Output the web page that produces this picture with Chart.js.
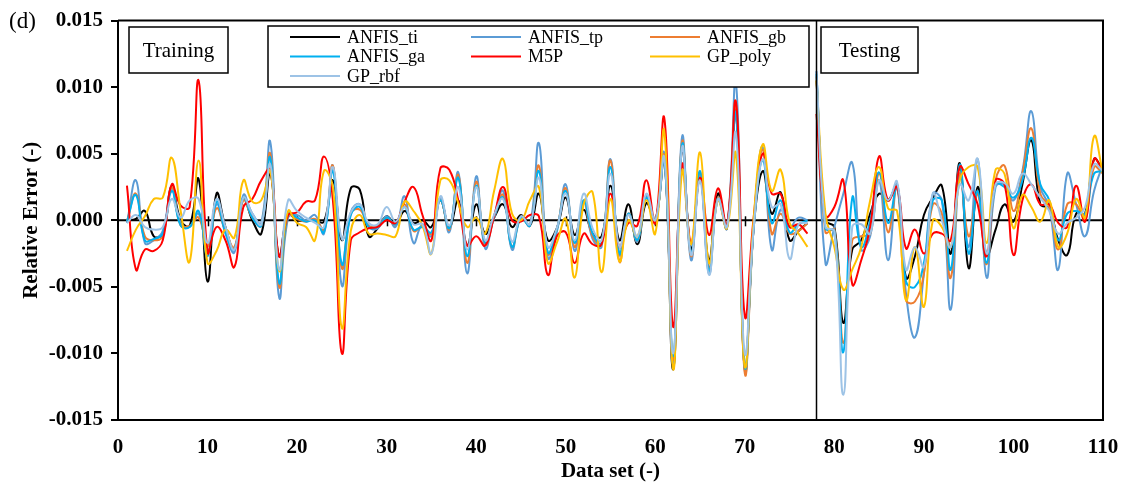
<!DOCTYPE html>
<html>
<head>
<meta charset="utf-8">
<script src="https://cdn.jsdelivr.net/npm/chart.js@4.4.1/dist/chart.umd.min.js"></script>
<style>
html, body { margin: 0; padding: 0; background: #fff; }
#wrap { width: 1123px; height: 490px; }
</style>
</head>
<body>
<div id="wrap"><canvas id="chart" width="1123" height="490"></canvas></div>
<script>
// data set index runs 1..110; the first 77 samples are training, the rest testing
var trainCount = 77;
var splitAt = 78;
var xTickValues = [0, 10, 20, 30, 40, 50, 60, 70, 80, 90, 100, 110];
var zeroAxisTicks = [10, 20, 30, 40, 50, 60, 70];

var seriesNames = ['ANFIS_ti', 'ANFIS_tp', 'ANFIS_gb', 'ANFIS_ga', 'M5P', 'GP_poly', 'GP_rbf'];
var seriesColors = ['#000000', '#5B9BD5', '#ED7D31', '#00B0F0', '#FF0000', '#FFC000', '#9DC3E6'];

var anfisTi = [
  0, 0.0001, 0.0007, -0.0012, -0.001, 0.0026, 0, -0.0004, 0.0031, -0.0046,
  0.002, -0.0005, -0.0022, 0.0017, 0, -0.001, 0.0035, -0.0027, 0.0005, 0,
  0, 0, -0.0001, 0.003, -0.0015, 0.0024, 0.0023, -0.0012, -0.0006, 0.0003,
  -0.0003, 0.0007, -0.0002, 0, -0.0005, 0.0015, -0.0005, 0.0015, -0.0019, 0.0012,
  -0.001, 0.0002, 0.0012, -0.0005, 0.0004, -0.0004, 0.002, -0.0015, -0.0006, 0.0017,
  -0.0011, 0.0008, -0.001, -0.0012, 0.0026, -0.0015, 0.0012, -0.0018, 0.0013, 0,
  0.0046, -0.0112, 0.0055, -0.0022, 0.0032, -0.003, 0.002, -0.0006, 0.0082, -0.0112,
  -0.0005, 0.0037, 0.0005, 0.0021, -0.0015, -0.0008, -0.0002,
  0.0105, 0, -0.0005, -0.0077, -0.0022, -0.0015, 0.0005, 0.002, 0.0015, 0.0027,
  -0.0043, -0.0027, 0.0004, 0.0017, 0.0026, -0.0025, 0.0043, -0.0036, 0.0025, -0.0026,
  -0.0007, 0.0012, -0.0001, 0.0027, 0.006, 0.0012, 0.0009, -0.0015, -0.0026, 0.0005,
  0.0005, 0.0046, 0.0038
];
var anfisTp = [
  -0.0002, 0.003, -0.0017, -0.0015, -0.0008, 0.0024, -0.0002, -0.0005, 0.0005, -0.0024,
  0.0012, -0.001, -0.0024, 0.0019, 0.0005, -0.0002, 0.0059, -0.0058, 0.0002, 0.0004,
  0, 0.0004, -0.001, 0.0041, -0.0049, 0.0006, 0.0012, -0.0005, -0.0006, 0.0003,
  -0.0005, 0.0018, -0.0017, -0.0003, -0.0012, 0.0017, -0.0009, 0.0036, -0.004, 0.0033,
  -0.0021, 0.0003, 0.0022, -0.0022, 0.0002, -0.0004, 0.0058, -0.0028, -0.0009, 0.0027,
  -0.0023, 0.0015, -0.0014, -0.002, 0.0046, -0.0026, 0.0005, -0.0016, 0.0018, -0.0001,
  0.005, -0.0108, 0.0063, -0.003, 0.0036, -0.004, 0.0017, -0.0006, 0.0104, -0.0113,
  -0.0003, 0.0055, -0.0022, 0.0008, -0.0005, 0.0002, 0,
  0.0112, -0.0032, -0.0005, 0.002, 0.0043, -0.0022, -0.0012, 0.003, -0.003, 0.0027,
  -0.0055, -0.0088, -0.004, 0.002, 0.0015, -0.0067, 0.0035, -0.002, 0.0046, -0.0043,
  0.0025, 0.0027, 0.0015, 0.0037, 0.0082, 0.0025, 0.001, -0.0037, 0.0035, 0.0012,
  -0.0012, 0.0022, 0.0042
];
var anfisGb = [
  -0.0001, 0.002, -0.0012, -0.0015, -0.0012, 0.0025, -0.0004, -0.0004, 0.0002, -0.002,
  0.0009, -0.0008, -0.002, 0.0015, 0.0002, -0.0004, 0.005, -0.005, 0.0004, 0.0001,
  -0.0001, 0.0001, -0.0007, 0.0041, -0.0036, 0.0005, 0.0008, -0.0004, -0.0004, 0.0002,
  -0.0003, 0.0012, -0.0008, -0.0005, -0.001, 0.0015, -0.0007, 0.0034, -0.0032, 0.0029,
  -0.0018, 0.0002, 0.0019, -0.002, 0.0002, -0.0004, 0.0041, -0.0025, -0.0007, 0.0024,
  -0.002, 0.0014, -0.0012, -0.0018, 0.0045, -0.0031, 0.0005, -0.0015, 0.0017, 0,
  0.0048, -0.0105, 0.0059, -0.0027, 0.0036, -0.0036, 0.0017, -0.0005, 0.0088, -0.0115,
  -0.0004, 0.0053, -0.001, 0.0005, -0.001, -0.0008, -0.0002,
  0.0108, -0.0009, -0.0007, -0.0092, -0.0015, -0.0012, -0.001, 0.0035, -0.0009, 0.0025,
  -0.006, -0.0061, -0.004, 0.0012, 0.0005, -0.0043, 0.0035, -0.0012, 0.002, -0.0033,
  0.003, 0.0041, 0.0007, 0.0035, 0.0069, 0.002, 0.001, -0.0022, 0.0012, 0.0012,
  0, 0.004, 0.0035
];
var anfisGa = [
  -0.0001, 0.0019, -0.0015, -0.0014, -0.001, 0.0022, -0.0004, -0.0005, 0.0007, -0.0027,
  0.0014, -0.0009, -0.0022, 0.0017, 0.0002, -0.0004, 0.0047, -0.0047, 0.0005, 0.0002,
  -0.0001, 0, -0.0009, 0.0037, -0.0033, 0.0004, 0.001, -0.0005, -0.0005, 0.0002,
  -0.0003, 0.001, -0.0007, -0.0005, -0.0009, 0.0015, -0.0006, 0.0032, -0.0027, 0.0026,
  -0.0017, 0.0002, 0.0017, -0.002, 0.0002, -0.0004, 0.0037, -0.0024, -0.0007, 0.0022,
  -0.0017, 0.0015, -0.001, -0.0017, 0.004, -0.0025, 0.0005, -0.0015, 0.0017, 0,
  0.0046, -0.0102, 0.0057, -0.0025, 0.0037, -0.0038, 0.0016, -0.0005, 0.008, -0.011,
  -0.0005, 0.0045, -0.0002, 0.0015, -0.0009, -0.0003, 0,
  0.011, -0.0006, -0.0008, -0.0099, 0.0017, -0.002, 0, 0.0036, -0.0002, 0.0025,
  -0.0046, -0.005, -0.0032, 0.0015, 0.0015, -0.0037, 0.0042, -0.0025, 0.0022, -0.0032,
  0.0027, 0.0025, 0.0017, 0.003, 0.0062, 0.0027, 0.0015, -0.0015, 0.0005, 0.0007,
  0.0005, 0.0035, 0.0037
];
var m5p = [
  0.0026, -0.0037, -0.0022, -0.0023, -0.0015, 0.0027, 0.0011, 0.001, 0.0105, -0.0024,
  -0.0005, -0.0015, -0.0035, 0.001, 0.0016, 0.003, 0.0038, -0.0027, 0.0004, 0.0006,
  0.0014, 0.0015, 0.0048, 0.0015, -0.01, -0.0015, -0.0009, -0.0006, -0.0005, 0,
  -0.0002, 0.0014, 0.0025, 0.0004, -0.0015, 0.0039, 0.0038, 0.0015, -0.0019, -0.0012,
  -0.0019, 0.0003, 0.0025, 0, -0.0001, 0.0004, 0.0003, -0.0041, -0.0012, -0.0009,
  -0.0032, -0.001, -0.0018, -0.0018, 0.002, -0.002, -0.0002, -0.0004, 0.003, -0.0002,
  0.0077, -0.008, 0.0042, -0.0017, 0.0032, -0.0011, 0.0024, -0.0004, 0.0089, -0.0072,
  0.0003, 0.005, 0.002, 0.002, -0.0005, -0.0003, -0.001,
  0.008, 0.0003, 0.001, 0.003, -0.0048, -0.003, -0.0005, 0.0048, 0.0015, 0.0025,
  -0.0021, -0.0007, -0.0025, -0.001, -0.001, -0.0015, 0.004, 0.0027, 0.0012, -0.0027,
  0.003, 0.0027, -0.0026, 0.0015, 0.0027, 0.0012, 0.0012, -0.0002, -0.0005, 0.0026,
  -0.0001, 0.0046, 0.0037
];
var gpPoly = [
  -0.0023, -0.0007, 0.0003, 0.0016, 0.0017, 0.0047, 0.0007, -0.0031, 0.0045, -0.0032,
  -0.0023, -0.0007, -0.0013, 0.003, 0.0014, 0.0015, 0.0037, -0.0038, 0.0007, -0.0002,
  -0.0005, -0.0015, 0.0037, 0.0025, -0.0081, -0.0008, 0.0004, -0.001, -0.001, -0.0011,
  -0.0012, 0.0014, 0.0007, -0.0004, -0.0025, 0.003, 0.003, 0.0013, -0.0005, 0.0002,
  -0.001, 0.0022, 0.0046, 0.0005, 0, 0.0015, 0.0025, -0.0032, -0.0017, 0.0001,
  -0.0043, 0.0012, 0.0021, -0.0039, 0.0016, -0.0031, 0, -0.0012, 0.0015, -0.001,
  0.0067, -0.0112, 0.0037, -0.0018, 0.0051, -0.0032, 0.0015, -0.0006, 0.005, -0.011,
  0.0002, 0.0057, 0.0022, 0.0038, -0.0002, -0.001, -0.002,
  0.0105, 0.0005, -0.002, -0.0052, -0.0037, -0.002, 0.0015, 0.004, 0.0009, 0.0007,
  -0.006, -0.002, -0.0065, 0, -0.0005, -0.002, 0.003, 0.004, 0.004, -0.0017,
  0.0038, 0.0035, -0.0006, 0.0019, 0.001, -0.0001, 0.0015, -0.002, -0.001, 0.0016,
  0.0002, 0.0063, 0.0035
];
var gpRbf = [
  -0.0002, 0.0004, -0.0005, -0.0007, -0.0005, 0.0016, 0.0002, 0.0015, 0.0016, -0.0017,
  0.0016, -0.0005, -0.0022, 0.0017, 0.0005, -0.0003, 0.0042, -0.0037, 0.0015, 0.0007,
  0.0002, -0.0002, -0.0005, 0.004, -0.0014, 0.0006, 0.0012, -0.0002, -0.0003, 0.001,
  -0.0001, 0.001, -0.0003, -0.0003, -0.0025, 0.0018, -0.0004, 0.0025, -0.0022, 0.0025,
  -0.0015, 0.0004, 0.0016, -0.0016, 0.0003, -0.0003, 0.0032, -0.002, -0.0006, 0.002,
  -0.0015, 0.002, -0.0006, -0.0015, 0.0035, -0.002, 0.0004, -0.0012, 0.002, 0,
  0.0047, -0.01, 0.0055, -0.0026, 0.003, -0.0041, 0.0016, -0.0005, 0.0065, -0.01,
  -0.0005, 0.0046, 0.001, 0.0012, -0.0029, -0.0003, -0.0002,
  0.0112, -0.0005, -0.0008, -0.0131, -0.0005, -0.0003, -0.001, 0.003, 0.0015, 0.0029,
  -0.0037, -0.002, -0.0035, 0.002, 0, -0.002, 0.0027, 0.0015, 0.0046, -0.0025,
  0.0027, 0.0028, 0.002, 0.0035, 0.0027, 0.0017, 0.0007, -0.001, -0.0002, 0.0002,
  0.001, 0.0042, 0.0037
];

var seriesValues = [anfisTi, anfisTp, anfisGb, anfisGa, m5p, gpPoly, gpRbf];

var serif = '"Liberation Serif", "Times New Roman", serif';

// gap between training and testing so the curves don't join
function toPoints(values) {
  var pts = [];
  for (var i = 0; i < values.length; i++) {
    if (i === trainCount) pts.push({ x: trainCount + 0.5, y: null });
    pts.push({ x: i + 1, y: values[i] });
  }
  return pts;
}

var datasets = seriesNames.map(function (name, i) {
  return {
    label: name,
    data: toPoints(seriesValues[i]),
    borderColor: seriesColors[i],
    backgroundColor: seriesColors[i],
    borderWidth: 2,
    pointRadius: 0,
    tension: 0.45,
    spanGaps: false,
    fill: false,
    order: seriesNames.length - i
  };
});

function drawBoxLabel(ctx, text, l, t, r, b) {
  ctx.lineWidth = 1.5;
  ctx.strokeStyle = '#000';
  ctx.strokeRect(l, t, r - l, b - t);
  ctx.fillStyle = '#000';
  ctx.font = '21px ' + serif;
  ctx.textAlign = 'center';
  ctx.textBaseline = 'middle';
  ctx.fillText(text, (l + r) / 2, (t + b) / 2 + 1);
}

var decorations = {
  id: 'decorations',
  beforeDatasetsDraw: function (chart) {
    var ctx = chart.ctx, area = chart.chartArea;
    var xs = chart.scales.x, ys = chart.scales.y;
    var y0 = ys.getPixelForValue(0);
    ctx.save();
    ctx.strokeStyle = '#000';
    ctx.lineWidth = 2;
    ctx.beginPath();
    ctx.moveTo(area.left, y0);
    ctx.lineTo(area.right, y0);
    ctx.stroke();
    ctx.lineWidth = 1.5;
    zeroAxisTicks.forEach(function (v) {
      var px = Math.round(xs.getPixelForValue(v)) + 0.5;
      ctx.beginPath();
      ctx.moveTo(px, y0 - 4);
      ctx.lineTo(px, y0 + 6);
      ctx.stroke();
    });
    ctx.restore();
  },
  afterDraw: function (chart) {
    var ctx = chart.ctx, area = chart.chartArea;
    var xs = chart.scales.x;
    ctx.save();

    // plot frame (top and right edges)
    ctx.strokeStyle = '#000';
    ctx.lineWidth = 2;
    ctx.beginPath();
    ctx.moveTo(area.left, area.top);
    ctx.lineTo(area.right, area.top);
    ctx.lineTo(area.right, area.bottom);
    ctx.stroke();

    // training / testing divider
    var xd = Math.round(xs.getPixelForValue(splitAt)) + 0.5;
    ctx.lineWidth = 1.5;
    ctx.beginPath();
    ctx.moveTo(xd, area.top);
    ctx.lineTo(xd, area.bottom);
    ctx.stroke();

    drawBoxLabel(ctx, 'Training', 129, 27, 228, 73);
    drawBoxLabel(ctx, 'Testing', 821, 27, 918, 73);

    // legend box
    ctx.fillStyle = '#fff';
    ctx.fillRect(268, 26, 541, 61);
    ctx.lineWidth = 1.5;
    ctx.strokeStyle = '#000';
    ctx.strokeRect(268, 26, 541, 61);
    var colX = [290, 471, 650];
    var rowY = [37, 56.5, 76];
    ctx.font = '18px ' + serif;
    ctx.textAlign = 'left';
    ctx.textBaseline = 'middle';
    seriesNames.forEach(function (name, i) {
      var cx = colX[i % 3], cy = rowY[Math.floor(i / 3)];
      ctx.strokeStyle = seriesColors[i];
      ctx.lineWidth = 2;
      ctx.beginPath();
      ctx.moveTo(cx, cy);
      ctx.lineTo(cx + 50, cy);
      ctx.stroke();
      ctx.fillStyle = '#000';
      ctx.fillText(name, cx + 57, cy + 1);
    });

    // panel letter
    ctx.font = '23px ' + serif;
    ctx.fillText('(d)', 9, 22);
    ctx.restore();
  }
};

new Chart(document.getElementById('chart'), {
  type: 'line',
  data: { datasets: datasets },
  options: {
    responsive: false,
    animation: false,
    devicePixelRatio: 1,
    layout: { padding: { top: 19, right: 20, left: 0, bottom: 0 } },
    plugins: { legend: { display: false }, tooltip: { enabled: false } },
    scales: {
      x: {
        type: 'linear',
        min: 0,
        max: 110,
        afterFit: function (scale) {
          scale.height = 70;
          scale.paddingLeft = 0;
          scale.paddingRight = 0;
        },
        afterBuildTicks: function (scale) {
          scale.ticks = xTickValues.map(function (v) { return { value: v }; });
        },
        grid: { display: false, drawTicks: false },
        border: { display: true, color: '#000', width: 2 },
        ticks: {
          color: '#000',
          padding: 15,
          maxRotation: 0,
          font: { family: serif, size: 21, weight: 'bold' }
        },
        title: {
          display: true,
          text: 'Data set (-)',
          color: '#000',
          padding: { top: 0, bottom: 6 },
          font: { family: serif, size: 21, weight: 'bold' }
        }
      },
      y: {
        min: -0.015,
        max: 0.015,
        afterFit: function (scale) { scale.width = 118; },
        grid: { drawOnChartArea: false, drawTicks: true, tickLength: 7, color: '#000', lineWidth: 2 },
        border: { display: true, color: '#000', width: 2 },
        ticks: {
          stepSize: 0.005,
          color: '#000',
          padding: 8,
          font: { family: serif, size: 21, weight: 'bold' },
          callback: function (v) { return Math.abs(v) < 1e-9 ? '0.000' : Number(v).toFixed(3); }
        },
        title: {
          display: true,
          text: 'Relative Error (-)',
          color: '#000',
          padding: { top: 19, bottom: 0 },
          font: { family: serif, size: 21, weight: 'bold' }
        }
      }
    }
  },
  plugins: [decorations]
});
</script>
</body>
</html>
